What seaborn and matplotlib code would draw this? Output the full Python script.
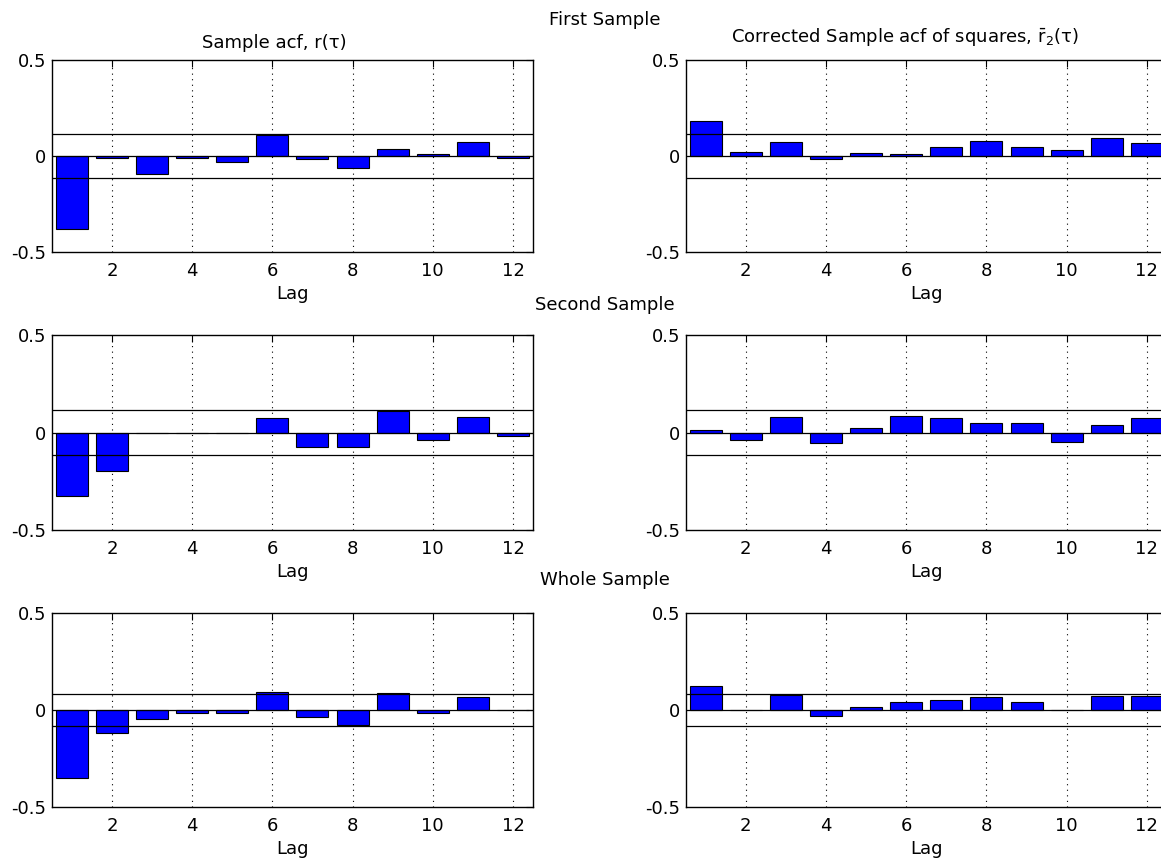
import matplotlib
matplotlib.use("Agg")
import matplotlib.pyplot as plt
import pandas as pd
import seaborn as sns

# ---------------- data ----------------
lags = [1, 2, 3, 4, 5, 6, 7, 8, 9, 10, 11, 12]

first_acf = [-0.382, -0.008, -0.096, -0.009, -0.033, 0.111, -0.016, -0.061, 0.036, 0.009, 0.073, -0.009]
first_sq = [0.182, 0.021, 0.073, -0.017, 0.014, 0.009, 0.045, 0.080, 0.045, 0.030, 0.096, 0.066]

second_acf = [-0.328, -0.198, 0.0, 0.0, 0.0, 0.072, -0.074, -0.074, 0.112, -0.038, 0.078, -0.017]
second_sq = [0.014, -0.038, 0.078, -0.053, 0.021, 0.086, 0.072, 0.050, 0.050, -0.047, 0.036, 0.072]

whole_acf = [-0.348, -0.116, -0.045, -0.017, -0.017, 0.094, -0.038, -0.079, 0.086, -0.017, 0.065, 0.0]
whole_sq = [0.122, 0.0, 0.075, -0.031, 0.015, 0.043, 0.051, 0.065, 0.043, 0.0, 0.072, 0.072]

bands = [0.116, 0.116, 0.080]
sample_titles = ["First Sample", "Second Sample", "Whole Sample"]
left_title = "Sample acf, r(τ)"
right_title = r"Corrected Sample acf of squares, $\bar{\mathrm{r}}_{2}$(τ)"
x_label = "Lag"
xticks = [2, 4, 6, 8, 10, 12]
yticks = [-0.5, 0, 0.5]
ytick_labels = ["-0.5", "0", "0.5"]

# ---------------- style ----------------
sns.set_style("white")
plt.rcParams['font.family'] = ['DejaVu Sans']
plt.rcParams['mathtext.fontset'] = 'dejavusans'
plt.rcParams['text.color'] = 'black'
plt.rcParams['axes.labelcolor'] = 'black'
plt.rcParams['xtick.color'] = 'black'
plt.rcParams['ytick.color'] = 'black'

W, H = 1161, 859
fig = plt.figure(figsize=(W / 100, H / 100), dpi=100)
fig.patch.set_facecolor("white")

col_x = [51.8, 685.7]
col_w = 481.2
rows = [(60, 252), (335, 530), (613, 807)]
sample_y = [20, 305, 580]

data = [(first_acf, first_sq), (second_acf, second_sq), (whole_acf, whole_sq)]
FS = 13

for r, (top, bot) in enumerate(rows):
    for c in range(2):
        vals = data[r][c]
        ax = fig.add_axes([col_x[c] / W, 1 - bot / H, col_w / W, (bot - top) / H])
        df = pd.DataFrame({"Lag": lags, "val": vals})
        sns.barplot(data=df, x="Lag", y="val", native_scale=True, width=0.8,
                    color="blue", saturation=1, edgecolor="black", linewidth=0.8,
                    ax=ax)
        ax.set_xlim(0.5, 12.5)
        ax.set_ylim(-0.5, 0.5)
        ax.set_xticks(xticks)
        ax.set_xticklabels([str(t) for t in xticks])
        ax.set_yticks(yticks)
        ax.set_yticklabels(ytick_labels)
        ax.set_axisbelow(True)
        ax.xaxis.grid(True, linestyle=(0, (1, 4)), color="black", linewidth=0.8)
        ax.yaxis.grid(False)
        for y in (0.0, bands[r], -bands[r]):
            ax.axhline(y, color="black", linewidth=0.9, zorder=4)
        ax.tick_params(axis="x", direction="in", length=5, top=True, width=0.8,
                       labelsize=FS, pad=7, colors="black")
        ax.tick_params(axis="y", direction="in", length=5, right=True, width=0.8,
                       labelsize=FS, pad=4, colors="black")
        for s in ax.spines.values():
            s.set_visible(True)
            s.set_color("black")
            s.set_linewidth(1.0)
        ax.set_xlabel(x_label, fontsize=FS, labelpad=4, color="black")
        ax.set_ylabel("")
        if r == 0:
            if c == 0:
                ax.text(0.462, 1 + 12 / (bot - top), left_title, transform=ax.transAxes,
                        ha="center", va="baseline", fontsize=FS, color="black")
            else:
                ax.text(0.456, 1 + 17 / (bot - top), right_title, transform=ax.transAxes,
                        ha="center", va="baseline", fontsize=FS, color="black")
    fig.text(605 / W, 1 - sample_y[r] / H, sample_titles[r], ha="center", va="center",
             fontsize=FS, color="black")

fig.savefig("out.png", dpi=100, facecolor="white")
